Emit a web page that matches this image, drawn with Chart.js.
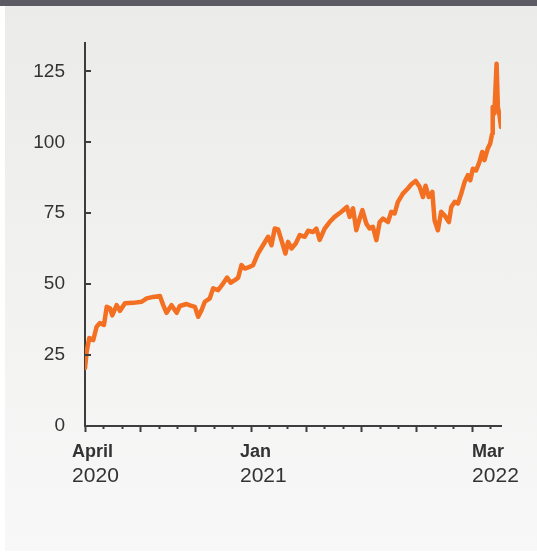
<!DOCTYPE html>
<html>
<head>
<meta charset="utf-8">
<script src="https://cdn.jsdelivr.net/npm/chart.js@4.4.1/dist/chart.umd.min.js"></script>
<style>
    body { margin: 0; background: #ffffff; }
    #quadro { position: relative; width: 537px; height: 553px; overflow: hidden; }
    #barra-topo { position: absolute; left: 0; top: 0; width: 537px; height: 6px; background: #5c5b63; }
    #painel { position: absolute; left: 5px; top: 6px; width: 532px; height: 545px; background: linear-gradient(#ebebe9, #f8f8f8); }
    #grafico-preco { position: absolute; left: 0; top: 0; }
</style>
</head>
<body>
<div id="quadro">
    <div id="barra-topo"></div>
    <div id="painel"></div>
    <canvas id="grafico-preco" width="537" height="553"></canvas>
</div>
<script>
// Dados do gráfico - meses contados a partir de abril/2020
let meses = [0, 0.09, 0.23, 0.45, 0.63, 0.81, 1.03, 1.18, 1.36, 1.48,
    1.72, 1.90, 2.17, 2.62, 3.08, 3.35, 3.71, 4.07, 4.25, 4.43,
    4.70, 4.98, 5.15, 5.52, 5.70, 5.97, 6.15, 6.33, 6.51, 6.78,
    6.96, 7.23, 7.50, 7.72, 7.91, 8.14, 8.32, 8.50, 8.68, 8.95,
    9.13, 9.40, 9.67, 9.95, 10.13, 10.31, 10.49, 10.67, 10.89, 11.03,
    11.22, 11.45, 11.67, 11.94, 12.12, 12.39, 12.57, 12.75, 13.02, 13.29,
    13.56, 13.93, 14.23, 14.38, 14.56, 14.74, 14.92, 15.07, 15.28, 15.46,
    15.64, 15.83, 16.01, 16.19, 16.46, 16.64, 16.82, 17.00, 17.27, 17.54,
    17.73, 17.96, 18.18, 18.36, 18.50, 18.68, 18.87, 18.99, 19.17, 19.35,
    19.53, 19.77, 19.90, 20.08, 20.26, 20.44, 20.62, 20.80, 20.93, 21.07,
    21.25, 21.43, 21.58, 21.70, 21.88, 22.01, 22.12, 22.15, 22.24, 22.36,
    22.43, 22.52, 22.60
];

let precos = [20.4, 26.2, 31, 30.3, 35, 36.3, 35.6, 42, 41.5, 39,
    42.6, 40.6, 43.3, 43.4, 43.8, 45, 45.5, 45.8, 42.6, 39.9,
    42.6, 39.9, 42.3, 43, 42.5, 42, 38.5, 40.8, 43.8, 45,
    48.5, 47.9, 50.2, 52.3, 50.5, 51.4, 52.3, 56.7, 55.5, 56.1,
    56.7, 60.8, 63.7, 66.7, 63.7, 69.6, 69.3, 65.5, 60.8, 64.9,
    62.6, 64.3, 67.3, 66.7, 68.8, 68.4, 69.6, 65.6, 69.6, 71.9,
    73.7, 75.5, 77.2, 73.7, 76.7, 69, 73.1, 76.1, 71.4, 69.6,
    70.2, 65.5, 71.9, 73.1, 71.9, 75.5, 74.9, 79, 81.9, 83.7,
    85.2, 86.4, 84.3, 80.7, 84.7, 80.7, 82.5, 72.5, 69, 75.5,
    74.3, 71.9, 77.2, 79, 78.4, 81.9, 86, 88.4, 86.6, 90.7,
    90.1, 93.1, 96.6, 93.7, 97.8, 99.5, 103, 112.4, 110.1, 127.7,
    112.4, 109.5, 105.4
];

// Marcas dos eixos e rótulos
let valoresY = [0, 25, 50, 75, 100, 125];
let marcasMes = [0, 1, 2, 3, 4, 5, 6, 7, 8, 9, 10, 11, 12, 13, 14, 15, 16, 17, 18, 19, 20, 21, 22];
let rotulosMes = ["April", "Jan", "Mar"];
let rotulosAno = ["2020", "2021", "2022"];
let posicaoRotulos = [-0.7, 8.42, 21.03];

const corEixo = "#3d3d3d";
const corTexto = "#333333";
const fonte = "'Liberation Sans', Arial, sans-serif";

// Plugin para desenhar marcas dos eixos e rótulos de data
const marcasEixos = {
    id: "marcasEixos",
    afterDraw(chart) {
        const { ctx, chartArea, scales } = chart;
        ctx.save();
        ctx.strokeStyle = corEixo;
        ctx.lineWidth = 2;

        valoresY.forEach(v => {
            const py = Math.round(scales.y.getPixelForValue(v));
            ctx.beginPath();
            ctx.moveTo(chartArea.left, py);
            ctx.lineTo(chartArea.left + 6, py);
            ctx.stroke();
        });

        marcasMes.forEach(m => {
            const px = Math.round(scales.x.getPixelForValue(m)) + 0.5;
            const tam = m % 3 === 0 ? 6 : 3;
            ctx.beginPath();
            ctx.moveTo(px, chartArea.bottom);
            ctx.lineTo(px, chartArea.bottom + tam);
            ctx.stroke();
        });

        ctx.fillStyle = corTexto;
        ctx.textAlign = "left";
        ctx.textBaseline = "alphabetic";
        rotulosMes.forEach((r, i) => {
            const px = scales.x.getPixelForValue(posicaoRotulos[i]);
            ctx.font = "bold 18px " + fonte;
            ctx.fillText(r, px, 457);
            ctx.font = "21px " + fonte;
            ctx.fillText(rotulosAno[i], px, 482);
        });
        ctx.restore();
    }
};

// Criando estrutura para plotar gráfico - dados
let dadosPreco = {
    labels: meses,
    datasets: [{
        label: "Preço",
        data: precos,
        borderColor: "#f36f21",
        borderWidth: 4.5,
        borderJoinStyle: "round",
        borderCapStyle: "round",
        pointRadius: 0,
        tension: 0,
        fill: false
    }]
};

// Criando estrutura para plotar gráfico - config
const configPreco = {
    type: "line",
    data: dadosPreco,
    options: {
        responsive: false,
        animation: false,
        layout: { padding: { top: 43, right: 36, bottom: 0, left: 0 } },
        plugins: {
            legend: { display: false },
            tooltip: { enabled: false }
        },
        scales: {
            x: {
                type: "linear",
                min: 0,
                max: 22.6,
                afterFit: scale => { scale.height = 127; },
                grid: { display: true, drawOnChartArea: false, drawTicks: false },
                border: { display: true, color: corEixo, width: 2 },
                ticks: { display: false }
            },
            y: {
                min: 0,
                max: 135,
                afterFit: scale => { scale.width = 85; },
                afterBuildTicks: scale => { scale.ticks = valoresY.map(v => ({ value: v })); },
                grid: { display: true, drawOnChartArea: false, drawTicks: false },
                border: { display: true, color: corEixo, width: 2 },
                ticks: {
                    padding: 20,
                    color: corTexto,
                    font: { family: fonte, size: 19 }
                }
            }
        }
    },
    plugins: [marcasEixos]
};

// Adicionando gráfico criado na tela
let graficoPreco = new Chart(
    document.getElementById("grafico-preco"),
    configPreco
);
</script>
</body>
</html>
